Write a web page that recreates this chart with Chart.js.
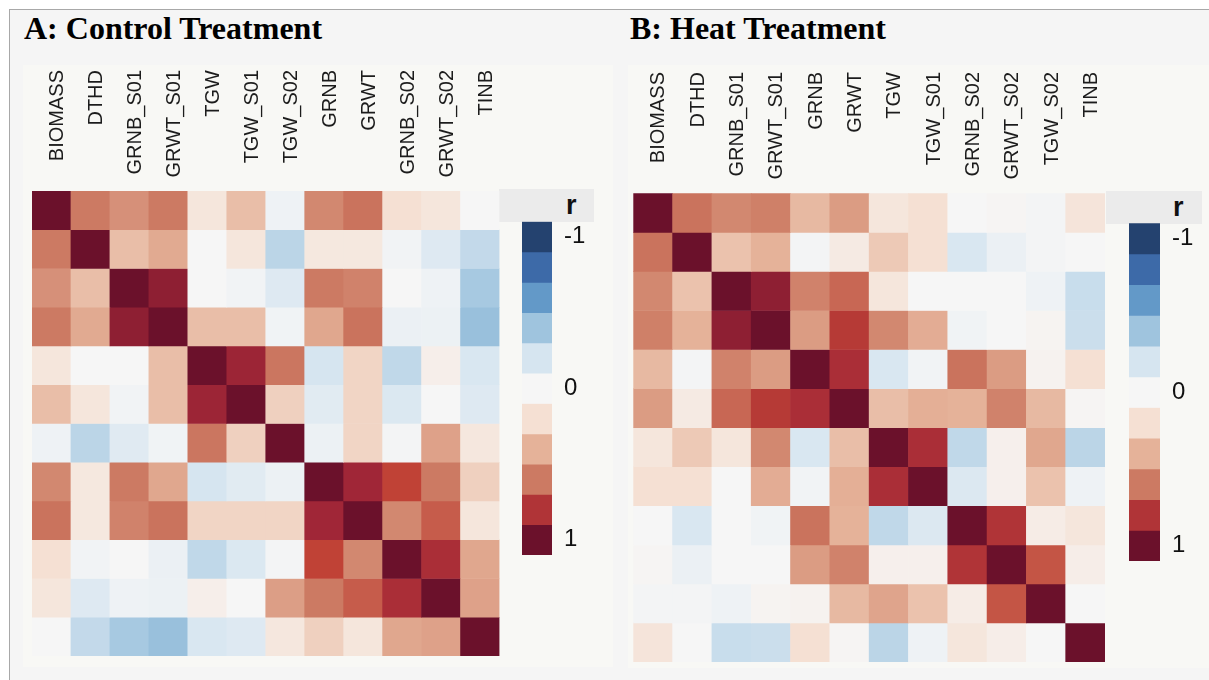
<!DOCTYPE html>
<html>
<head>
<meta charset="utf-8">
<script src="https://cdn.jsdelivr.net/npm/chart.js@4.4.1/dist/chart.umd.min.js"></script>
<style>
  body { margin:0; width:1209px; height:680px; overflow:hidden; position:relative; background:#fff;
         font-family:"Liberation Sans", Arial, sans-serif; }
  #frame { position:absolute; left:9px; top:9px; width:1200px; height:671px; background:#f5f5f5;
           border-top:1px solid #a8a8a8; border-left:1px solid #a8a8a8; }
  .plotbg { position:absolute; background:#f8f8f5; }
  .title { position:absolute; font-family:"Liberation Serif","Times New Roman",serif; font-weight:bold;
           font-size:32px; line-height:32px; color:#000; white-space:nowrap; }
  .rhead { position:absolute; background:#ebebeb; height:33px; }
  .rhead span { position:absolute; top:0; font-weight:bold; font-size:27px; line-height:33px; color:#111; }
  canvas { position:absolute; }
</style>
</head>
<body>
<div id="frame"></div>
<div class="plotbg" style="left:23px;top:65px;width:590px;height:602px;"></div>
<div class="plotbg" style="left:628px;top:65px;width:581px;height:603px;"></div>

<div class="title" style="left:24px;top:12px;">A: Control Treatment</div>
<div class="title" style="left:630px;top:12px;">B: Heat Treatment</div>

<div class="rhead" style="left:499px;top:189px;width:95px;"><span style="left:67px;">r</span></div>
<div class="rhead" style="left:1106px;top:191px;width:96px;"><span style="left:67px;">r</span></div>

<canvas id="heatA" width="482" height="610" style="left:23px;top:60px;"></canvas>
<canvas id="heatB" width="485" height="610" style="left:625px;top:60px;"></canvas>
<canvas id="barA" width="90" height="350" style="left:515px;top:215px;"></canvas>
<canvas id="barB" width="87" height="355" style="left:1122px;top:216px;"></canvas>

<script>
// variables, in the order of each panel
const varsA = ['BIOMASS','DTHD','GRNB_S01','GRWT_S01','TGW','TGW_S01','TGW_S02','GRNB','GRWT','GRNB_S02','GRWT_S02','TINB'];
const varsB = ['BIOMASS','DTHD','GRNB_S01','GRWT_S01','GRNB','GRWT','TGW','TGW_S01','GRNB_S02','GRWT_S02','TGW_S02','TINB'];

// correlation r, control treatment
const rA = [
  [1, 0.6, 0.52, 0.6, 0.15, 0.35, -0.05, 0.55, 0.62, 0.2, 0.15, 0.0],
  [0.6, 1, 0.35, 0.43, 0.0, 0.15, -0.3, 0.13, 0.13, -0.03, -0.15, -0.27],
  [0.52, 0.35, 1, 0.9, 0.0, -0.03, -0.15, 0.6, 0.57, 0.0, -0.05, -0.37],
  [0.6, 0.43, 0.9, 1, 0.35, 0.35, -0.04, 0.44, 0.62, -0.07, -0.06, -0.42],
  [0.15, 0.0, 0.0, 0.35, 1, 0.86, 0.61, -0.2, 0.25, -0.28, 0.07, -0.18],
  [0.35, 0.15, -0.03, 0.35, 0.86, 1, 0.27, -0.13, 0.25, -0.17, 0.0, -0.15],
  [-0.05, -0.3, -0.14, -0.04, 0.61, 0.27, 1, -0.06, 0.25, -0.02, 0.46, 0.14],
  [0.55, 0.13, 0.6, 0.44, -0.2, -0.13, -0.06, 1, 0.85, 0.75, 0.6, 0.27],
  [0.62, 0.13, 0.57, 0.62, 0.25, 0.25, 0.25, 0.85, 1, 0.55, 0.68, 0.15],
  [0.2, -0.03, 0.0, -0.07, -0.28, -0.17, -0.02, 0.75, 0.55, 1, 0.82, 0.44],
  [0.15, -0.15, -0.05, -0.06, 0.07, 0.0, 0.47, 0.6, 0.68, 0.82, 1, 0.46],
  [0.0, -0.27, -0.37, -0.42, -0.18, -0.15, 0.14, 0.27, 0.15, 0.44, 0.46, 1]
];

// correlation r, heat treatment
const rB = [
  [1, 0.62, 0.55, 0.58, 0.37, 0.48, 0.15, 0.2, 0.0, 0.02, -0.02, 0.16],
  [0.62, 1, 0.33, 0.4, -0.02, 0.11, 0.3, 0.2, -0.18, -0.07, -0.02, 0.0],
  [0.55, 0.33, 1, 0.9, 0.57, 0.65, 0.15, 0.0, 0.0, 0.0, -0.05, -0.25],
  [0.58, 0.4, 0.9, 1, 0.48, 0.78, 0.55, 0.42, -0.04, 0.0, 0.03, -0.24],
  [0.37, -0.02, 0.57, 0.48, 1, 0.82, -0.18, -0.03, 0.62, 0.48, 0.04, 0.2],
  [0.48, 0.11, 0.65, 0.78, 0.82, 1, 0.35, 0.41, 0.4, 0.57, 0.37, 0.02],
  [0.15, 0.3, 0.15, 0.55, -0.18, 0.35, 1, 0.82, -0.28, 0.06, 0.44, -0.3],
  [0.2, 0.2, 0.0, 0.42, -0.03, 0.41, 0.82, 1, -0.16, 0.06, 0.33, -0.05],
  [0.0, -0.18, 0.0, -0.04, 0.62, 0.4, -0.28, -0.16, 1, 0.8, 0.09, 0.15],
  [0.02, -0.07, 0.0, 0.0, 0.48, 0.57, 0.06, 0.06, 0.8, 1, 0.7, 0.08],
  [-0.02, -0.02, -0.05, 0.03, 0.04, 0.37, 0.45, 0.33, 0.09, 0.7, 1, 0.0],
  [0.16, 0.0, -0.25, -0.24, 0.2, 0.02, -0.3, -0.05, 0.15, 0.08, 0.0, 1]
];

// colour bar blocks and its labelled ticks
const barSteps = [-1, -0.8, -0.6, -0.4, -0.2, 0, 0.2, 0.4, 0.6, 0.8, 1];
const barTicks = [-1, 0, 1];

// colour scale (r -> colour)
const scaleStops = [-1, -0.8, -0.6, -0.4, -0.2, 0, 0.2, 0.4, 0.6, 0.75, 0.85, 1];
const scaleColors = ['#24426f','#3d6aa8','#6399c8','#9fc4de','#d6e5f0','#f6f6f6',
                     '#f5e0d3','#e5b299','#cc7a63','#c04236','#a02637','#6b112b'];

function hexRgb(h) {
    return [parseInt(h.slice(1,3),16), parseInt(h.slice(3,5),16), parseInt(h.slice(5,7),16)];
}

function colorFor(v) {
    if (v <= scaleStops[0]) return scaleColors[0];
    for (let i = 1; i < scaleStops.length; i++) {
        if (v <= scaleStops[i]) {
            const t = (v - scaleStops[i-1]) / (scaleStops[i] - scaleStops[i-1]);
            const a = hexRgb(scaleColors[i-1]), b = hexRgb(scaleColors[i]);
            const c = a.map((x, k) => Math.round(x + (b[k] - x) * t));
            return 'rgb(' + c.join(',') + ')';
        }
    }
    return scaleColors[scaleColors.length - 1];
}

// rotated column names above the grid, top-aligned
const topLabels = {
    id: 'topLabels',
    afterDatasetsDraw(chart, args, opts) {
        const ctx = chart.ctx;
        const x = chart.scales.x;
        ctx.save();
        ctx.font = '20px "Liberation Sans", Arial, sans-serif';
        ctx.fillStyle = '#1c1c1c';
        ctx.textAlign = 'right';
        ctx.textBaseline = 'alphabetic';
        chart.data.labels.forEach((lab, i) => {
            ctx.save();
            ctx.translate(x.getPixelForValue(i) + 11.5, opts.top);
            ctx.rotate(-Math.PI / 2);
            ctx.fillText(lab, 0, 0);
            ctx.restore();
        });
        ctx.restore();
    }
};

function heatmap(id, vars, r, pad, labelTop) {
    // one floating-bar dataset per row, rows stacked top to bottom
    const datasets = r.map((row, i) => ({
        data: row.map(() => [i, i + 1]),
        backgroundColor: row.map(colorFor),
        borderWidth: 0,
        grouped: false,
        barPercentage: 1,
        categoryPercentage: 1
    }));
    return new Chart(document.getElementById(id), {
        type: 'bar',
        data: { labels: vars, datasets: datasets },
        options: {
            responsive: false,
            animation: false,
            layout: { padding: pad },
            plugins: { legend: { display: false }, tooltip: { enabled: false }, topLabels: { top: labelTop } },
            scales: {
                x: { display: false },
                y: { display: false, min: 0, max: vars.length, reverse: true }
            }
        },
        plugins: [topLabels]
    });
}

function colorBar(id, pad, axisWidth) {
    const datasets = barSteps.map(v => ({
        data: [[v - 0.1, v + 0.1]],
        backgroundColor: colorFor(v),
        borderWidth: 0,
        grouped: false,
        barPercentage: 1,
        categoryPercentage: 1
    }));
    return new Chart(document.getElementById(id), {
        type: 'bar',
        data: { labels: ['r'], datasets: datasets },
        options: {
            responsive: false,
            animation: false,
            layout: { padding: pad },
            plugins: { legend: { display: false }, tooltip: { enabled: false } },
            scales: {
                x: { display: false },
                y: {
                    position: 'right',
                    min: -1.1, max: 1.1, reverse: true,
                    border: { display: false },
                    grid: { display: false, drawTicks: false },
                    afterBuildTicks: s => { s.ticks = barTicks.map(v => ({ value: v })); },
                    afterFit: s => {
                        s.width = axisWidth;
                        s.paddingTop = 0;
                        s.paddingBottom = 0;
                    },
                    ticks: {
                        padding: 12,
                        color: '#111',
                        font: { family: '"Liberation Sans", Arial, sans-serif', size: 24 },
                        callback: v => String(v)
                    }
                }
            }
        }
    });
}

heatmap('heatA', varsA, rA, { left: 9, top: 131, right: 5.5, bottom: 14 }, 10);
heatmap('heatB', varsB, rB, { left: 8.3, top: 133.3, right: 5, bottom: 8 }, 12);
colorBar('barA', { left: 7, top: 6.7, right: 0, bottom: 10 }, 53);
colorBar('barB', { left: 7, top: 7.3, right: 0, bottom: 10 }, 49);
</script>
</body>
</html>
